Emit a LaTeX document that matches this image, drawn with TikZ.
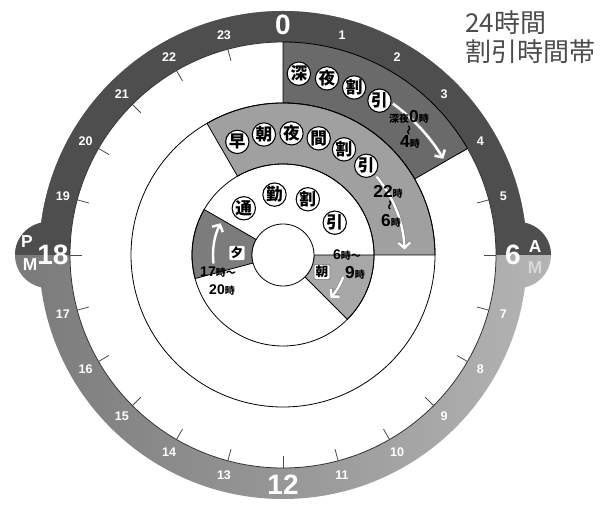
\documentclass[tikz,border=0pt]{standalone}
\usepackage{fontspec}
\setmainfont{Liberation Sans}
\newfontfamily\jp{Noto Sans CJK JP}
\usetikzlibrary{arrows.meta}
\definecolor{ringdark}{HTML}{4E4E4E}
\definecolor{ringlo}{HTML}{7A7A7A}
\definecolor{ringhi}{HTML}{B4B4B4}
\definecolor{nightgray}{HTML}{6A6A6A}
\definecolor{midgray}{HTML}{A0A0A0}
\definecolor{evegray}{HTML}{7C7C7C}
\definecolor{morngray}{HTML}{A8A8A8}
\tikzset{
  kanji/.style={circle, draw=black, line width=0.8pt, fill=white, inner sep=0pt,
    minimum size=17.5pt, font=\jp\bfseries\fontsize{12.5}{12.5}\selectfont},
  hour/.style={text=white, font=\bfseries\fontsize{9.4}{9.4}\selectfont},
  bighour/.style={text=white, font=\bfseries\fontsize{21}{21}\selectfont},
  ampm/.style={text=white, font=\bfseries\fontsize{13}{13}\selectfont},
  span/.style={inner sep=0pt, font=\jp\bfseries\fontsize{7.5}{7.5}\selectfont},
  tag/.style={draw=black!60, fill=white, rounded corners=1pt, inner sep=1.2pt,
    font=\jp\bfseries\fontsize{9.5}{9.5}\selectfont},
  warrow/.style={white, line width=1.8pt, -{Straight Barb[length=4pt,width=9pt]},
    preaction={draw=black!50, line width=2.6pt}},
  sector/.style={draw=black, line width=0.6pt}
}
\newcommand{\bignum}[1]{{\fontspec{Liberation Sans}\bfseries\fontsize{13}{13}\selectfont #1}}
\newcommand{\midnum}[1]{{\fontspec{Liberation Sans}\bfseries\fontsize{10.5}{10.5}\selectfont #1}}
\begin{document}
\begin{tikzpicture}[x=0.75pt,y=-0.75pt]
  \useasboundingbox (0,0) rectangle (605,505);
  \fill[white] (0,0) rectangle (605,505);

  \node[anchor=west, inner sep=0pt, align=left, text=black!70,
    font=\jp\fontsize{19.5}{22}\selectfont] (title) at (465,37) {24時間\\割引時間帯};

  \begin{scope}[shift={(283,255)}]
    % clock ring with AM/PM bumps
    \shade[left color=ringlo, right color=ringhi]
      (-235,0) circle[radius=33] (235,0) circle[radius=33] (0,0) circle[radius=244];
    \fill[ringdark] (-268,0) arc[start angle=180, end angle=360, radius=33] -- cycle
      (202,0) arc[start angle=180, end angle=360, radius=33] -- cycle
      (-244,0) arc[start angle=180, end angle=360, radius=244] -- cycle;
    \filldraw[fill=white, draw=black!80, line width=0.6pt] (0,0) circle[radius=213];

    \foreach \h in {0,...,23}
      \draw[black!70, line width=0.6pt] ({15*\h-90}:201) -- ({15*\h-90}:213);

    \foreach \h in {1,2,3,4,5,7,8,9,10,11,13,14,15,16,17,19,20,21,22,23}
      \node[hour] (h\h) at ({15*\h-90}:228) {\h};
    \foreach \h in {0,6,12,18}
      \node[bighour] (h\h) at ({15*\h-90}:230) {\h};

    \node[ampm] (p) at (-256,-13) {P};
    \node[ampm] (pm) at (-253,10) {M};
    \node[ampm] (a) at (252,-8) {A};
    \node[ampm, text=white!85!black] (am) at (252,13) {M};

    % discount bands
    \filldraw[sector, fill=nightgray] (-90:152) -- (-90:213)
      arc[start angle=-90, end angle=-30, radius=213] -- (-30:152)
      arc[start angle=-30, end angle=-90, radius=152] -- cycle;
    \filldraw[sector, fill=midgray] (-120:91) -- (-120:152)
      arc[start angle=-120, end angle=0, radius=152] -- (0:91)
      arc[start angle=0, end angle=-120, radius=91] -- cycle;
    \filldraw[sector, fill=morngray] (0:31) -- (0:91)
      arc[start angle=0, end angle=45, radius=91] -- (45:31)
      arc[start angle=45, end angle=0, radius=31] -- cycle;
    \filldraw[sector, fill=evegray] (165:31) -- (165:91)
      arc[start angle=165, end angle=210, radius=91] -- (210:31)
      arc[start angle=210, end angle=165, radius=31] -- cycle;

    \draw[sector] (0,0) circle[radius=152];
    \draw[sector] (0,0) circle[radius=91];
    \filldraw[sector, fill=white] (0,0) circle[radius=31];

    % arrows
    \draw[warrow] (-54:187) arc[start angle=-54, end angle=-31, radius=187];
    \draw[warrow] (-40:122) arc[start angle=-40, end angle=-2, radius=120];
    \draw[warrow] (173:70) arc[start angle=173, end angle=207, radius=70];
    \draw[warrow] (20:64) arc[start angle=20, end angle=42, radius=64];

    % circled names
    \foreach \c [count=\i] in {深,夜,割,引}
      \node[kanji] (night\i) at ({-94+9*\i}:182) {\c};
    \foreach \c [count=\i] in {早,朝,夜,間,割,引}
      \node[kanji] (early\i) at ({-125+13*\i}:122) {\c};
    \foreach \c/\a [count=\i] in {通/-130,勤/-98,割/-66,引/-32}
      \node[kanji] (comm\i) at (\a:61) {\c};

    % time spans
    \node[span] (nightfrom) at (126,-138) {深夜\bignum{0}時};
    \node[span, rotate=90] (nighttil) at (127,-124) {～};
    \node[span] (nightto) at (127,-113) {\bignum{4}時};

    \node[span] (earlyfrom) at (105,-63) {\bignum{22}時};
    \node[span, rotate=90] (earlytil) at (108,-49) {～};
    \node[span] (earlyto) at (108,-34) {\bignum{6}時};

    \node[tag] (morn) at (39,17) {朝};
    \node[span] (mornfrom) at (64,0) {\midnum{6}時～};
    \node[span] (mornto) at (72,18) {\bignum{9}時};

    \node[tag] (eve) at (-46,-2) {夕};
    \node[span] (evefrom) at (-65,17) {\midnum{17}時～};
    \node[span] (eveto) at (-61,35) {\midnum{20}時};
  \end{scope}
\end{tikzpicture}
\end{document}
